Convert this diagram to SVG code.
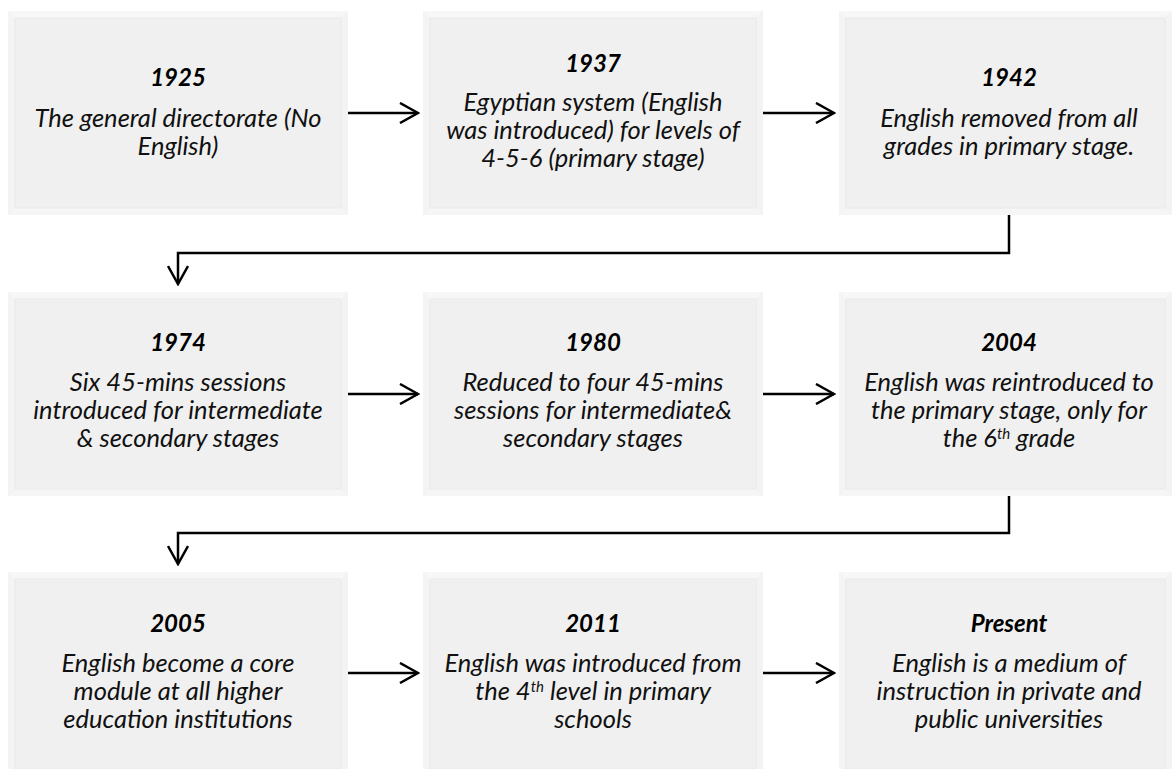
<svg xmlns="http://www.w3.org/2000/svg" xmlns:xlink="http://www.w3.org/1999/xlink" width="1172" height="769" viewBox="0 0 1172 769">
  <style>
    .yr { font-family: Lato, "Liberation Sans", sans-serif; font-weight: bold; font-style: italic; font-size: 24px; fill: #000; text-anchor: middle; }
    .tx { font-family: Lato, "Liberation Sans", sans-serif; font-style: italic; font-size: 25.5px; fill: #111; text-anchor: middle; }
    .sup { font-size: 15px; }
    .link { fill: none; stroke: #000; stroke-width: 2.5; marker-end: url(#head); }
  </style>
  <defs>
    <marker id="head" viewBox="0 0 22 22" refX="20" refY="11" markerWidth="22" markerHeight="22" markerUnits="userSpaceOnUse" orient="auto">
      <path d="M2,1 L20,11 L2,21" fill="none" stroke="#000" stroke-width="2.5"/>
    </marker>
    <!-- soft bevelled panel, 340 x 204 -->
    <symbol id="panel" viewBox="0 0 340 204" preserveAspectRatio="none">
      <rect x="0" y="0" width="340" height="204" fill="#f0f0f0"/>
      <path d="M0,0 H340 L333,7 H7 Z" fill="#f7f7f7"/>
      <path d="M0,204 H340 L333,197 H7 Z" fill="#f6f6f6"/>
      <path d="M0,0 L7,7 V197 L0,204 Z" fill="#f4f4f4"/>
      <path d="M340,0 L333,7 V197 L340,204 Z" fill="#f3f3f3"/>
      <path d="M7,7 H333 V197 H7 Z" fill="none" stroke="#e9e9e9" stroke-width="1"/>
    </symbol>
  </defs>
  <rect width="1172" height="769" fill="#fff"/>

  <g id="connectors">
    <path class="link" d="M347,113 H418"/>
    <path class="link" d="M763,113 H834"/>
    <path class="link" d="M1009,215 V253 H178 V284"/>
    <path class="link" d="M347,394 H418"/>
    <path class="link" d="M763,394 H834"/>
    <path class="link" d="M1009,495 V533 H178 V564"/>
    <path class="link" d="M347,673 H418"/>
    <path class="link" d="M763,673 H834"/>
  </g>

  <g id="n1925">
    <use xlink:href="#panel" x="8" y="11" width="340" height="204"/>
    <text class="yr" x="178" y="86">1925</text>
    <text class="tx" x="178" y="127">The general directorate (No</text>
    <text class="tx" x="178" y="155">English)</text>
  </g>
  <g id="n1937">
    <use xlink:href="#panel" x="423" y="11" width="340" height="204"/>
    <text class="yr" x="593" y="72">1937</text>
    <text class="tx" x="593" y="111">Egyptian system (English</text>
    <text class="tx" x="593" y="139">was introduced) for levels of</text>
    <text class="tx" x="593" y="167">4-5-6 (primary stage)</text>
  </g>
  <g id="n1942">
    <use xlink:href="#panel" x="839" y="11" width="333" height="204"/>
    <text class="yr" x="1009" y="86">1942</text>
    <text class="tx" x="1009" y="127">English removed from all</text>
    <text class="tx" x="1009" y="155">grades in primary stage.</text>
  </g>

  <g id="n1974">
    <use xlink:href="#panel" x="8" y="292" width="340" height="204"/>
    <text class="yr" x="178" y="351">1974</text>
    <text class="tx" x="178" y="391">Six 45-mins sessions</text>
    <text class="tx" x="178" y="419">introduced for intermediate</text>
    <text class="tx" x="178" y="447">&amp; secondary stages</text>
  </g>
  <g id="n1980">
    <use xlink:href="#panel" x="423" y="292" width="340" height="204"/>
    <text class="yr" x="593" y="351">1980</text>
    <text class="tx" x="593" y="391">Reduced to four 45-mins</text>
    <text class="tx" x="593" y="419">sessions for intermediate&amp;</text>
    <text class="tx" x="593" y="447">secondary stages</text>
  </g>
  <g id="n2004">
    <use xlink:href="#panel" x="839" y="292" width="333" height="204"/>
    <text class="yr" x="1009" y="351">2004</text>
    <text class="tx" x="1009" y="391">English was reintroduced to</text>
    <text class="tx" x="1009" y="419">the primary stage, only for</text>
    <text class="tx" x="1009" y="447">the 6<tspan class="sup" dy="-8">th</tspan><tspan dy="8"> grade</tspan></text>
  </g>

  <g id="n2005">
    <use xlink:href="#panel" x="8" y="572" width="340" height="204"/>
    <text class="yr" x="178" y="632">2005</text>
    <text class="tx" x="178" y="672">English become a core</text>
    <text class="tx" x="178" y="700">module at all higher</text>
    <text class="tx" x="178" y="728">education institutions</text>
  </g>
  <g id="n2011">
    <use xlink:href="#panel" x="423" y="572" width="340" height="204"/>
    <text class="yr" x="593" y="632">2011</text>
    <text class="tx" x="593" y="672">English was introduced from</text>
    <text class="tx" x="593" y="700">the 4<tspan class="sup" dy="-8">th</tspan><tspan dy="8"> level in primary</tspan></text>
    <text class="tx" x="593" y="728">schools</text>
  </g>
  <g id="nPresent">
    <use xlink:href="#panel" x="839" y="572" width="333" height="204"/>
    <text class="yr" x="1009" y="632">Present</text>
    <text class="tx" x="1009" y="672">English is a medium of</text>
    <text class="tx" x="1009" y="700">instruction in private and</text>
    <text class="tx" x="1009" y="728">public universities</text>
  </g>
</svg>
